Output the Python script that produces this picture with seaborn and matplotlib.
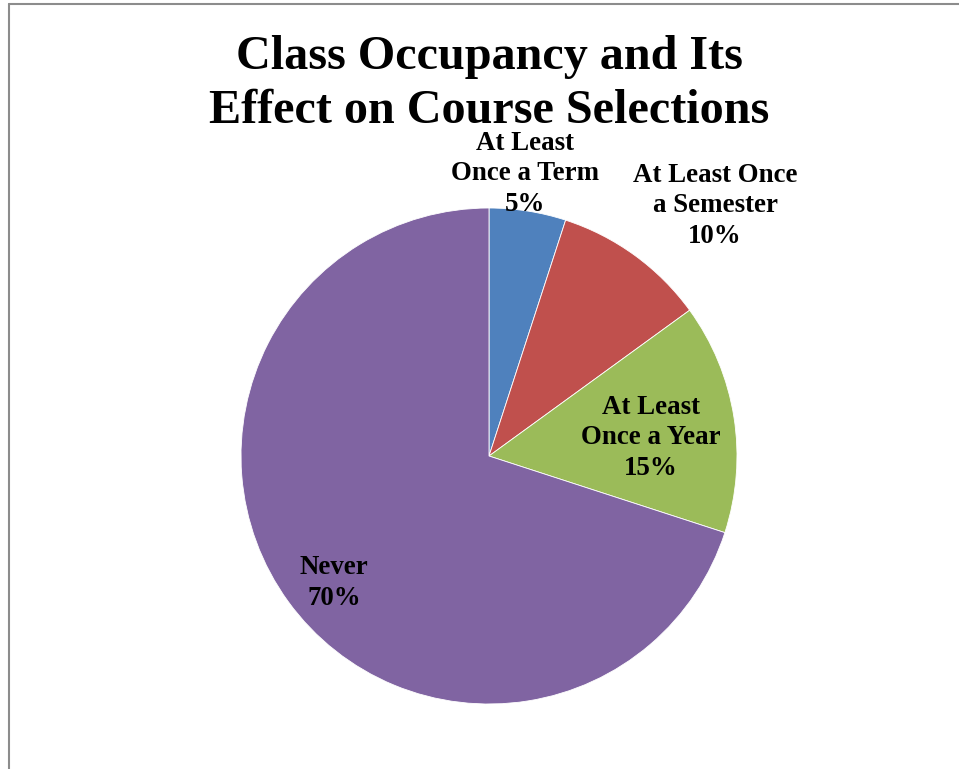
import matplotlib.pyplot as plt
import seaborn as sns
from matplotlib.lines import Line2D

sns.set_theme(style='white')
plt.rcParams['font.family'] = ['Liberation Serif', 'DejaVu Serif']

# data
categories = ['At Least\nOnce a Term', 'At Least Once\na Semester', 'At Least\nOnce a Year', 'Never']
shares = [5, 10, 15, 70]
colors = ['#4F81BD', '#C0504D', '#9BBB59', '#8064A2']
title = 'Class Occupancy and Its\nEffect on Course Selections'

W, H = 959, 769
fig = plt.figure(figsize=(W / 100, H / 100), dpi=100)

# pie centre (489, 456) px, radius 248 px
cx, cy, r = 489, 456, 248
ax = fig.add_axes([(cx - r) / W, (H - cy - r) / H, 2 * r / W, 2 * r / H])
ax.pie(shares, colors=colors, startangle=90, counterclock=False,
       wedgeprops=dict(edgecolor='white', linewidth=0.6))
ax.set_xlim(-1, 1)
ax.set_ylim(-1, 1)

# label positions in pixels (layout only)
label_px = [(525, 174), (715, 206), (651, 438), (334, 583)]
for name, val, (px, py) in zip(categories, shares, label_px):
    ax.text((px - cx) / r, (cy - py) / r, f'{name}\n{val}%',
            ha='center', va='center', fontsize=19.4, fontweight='bold',
            linespacing=1.27, color='black', clip_on=False)

fig.text(489 / W, 1 - 84 / H, title, ha='center', va='center', color='black',
         fontsize=34.7, fontweight='bold', linespacing=1.3)

# chart-area border (cropped)
fig.add_artist(Line2D([9 / W, 1], [1 - 4 / H, 1 - 4 / H], color='#8c8c8c', lw=1.5))
fig.add_artist(Line2D([9 / W, 9 / W], [0, 1 - 4 / H], color='#8c8c8c', lw=1.5))

fig.savefig('out.png', dpi=100)
